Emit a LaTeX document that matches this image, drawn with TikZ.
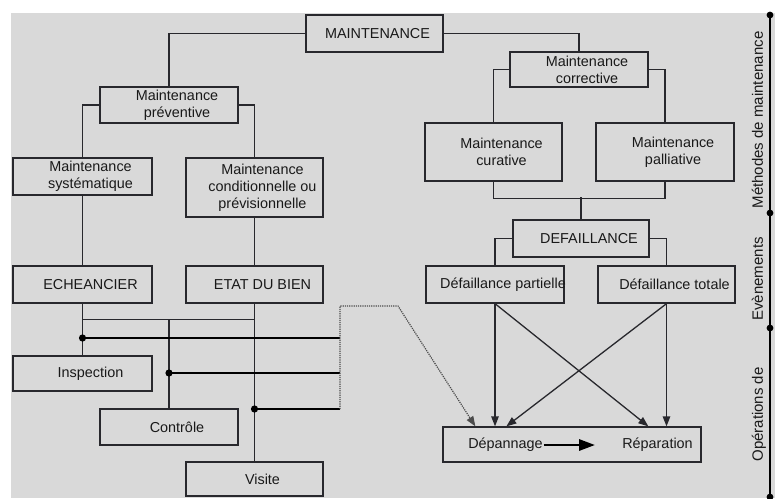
\documentclass[tikz,border=0pt]{standalone}
\usepackage{fontspec}
\setmainfont{Liberation Sans}
\usepackage{xcolor}
\usetikzlibrary{arrows.meta,positioning,calc}
\definecolor{bggray}{RGB}{217,217,217}
\definecolor{ink}{RGB}{40,40,45}

\begin{document}
\begin{tikzpicture}[
  x=1pt,y=-1pt,
  font=\fontsize{14.4}{17}\selectfont,
  frame/.style={draw=ink,line width=1.3pt,minimum width=138pt,minimum height=37pt,inner sep=0pt},
  txt/.style={align=center,text=black!90,inner sep=0pt,xshift=8pt},
  box/.style={frame,label={[txt]center:#1}},
  link/.style={draw=ink,line width=1.3pt},
  arr/.style={link,-{Triangle[length=10pt,width=7.5pt]}},
  thk/.style={draw=black,line width=2.6pt},
  dotarr/.style={draw=black!70,line width=1.2pt,densely dotted,-{Triangle[length=10pt,width=7.5pt]}},
  bigarr/.style={draw=black,line width=2.8pt,-{Triangle[length=16pt,width=11pt]}},
  side/.style={rotate=90,font=\fontsize{15}{18}\selectfont,text=black!90,inner sep=0pt}
]
\useasboundingbox (0,0) rectangle (775,498);
\fill[bggray] (11,13) rectangle (775,498);

% methodes
\node[frame,minimum width=137pt,label={[txt,xshift=-5pt]center:MAINTENANCE}] (maint) at (374.5,33.5) {};
\node[box={Maintenance\\préventive},minimum height=36pt] (prev) at (169,105) {};
\node[box={Maintenance\\systématique},minimum width=139pt] (syst) at (82.5,176.5) {};
\node[box={Maintenance\\conditionnelle ou\\prévisionnelle},minimum width=137pt,minimum height=59pt] (cond) at (254.5,187.5) {};
\node[box={Maintenance\\corrective},minimum height=35pt] (corr) at (579,69.5) {};
\node[box={Maintenance\\curative},minimum width=137pt,minimum height=58pt] (cur) at (493.5,152) {};
\node[box={Maintenance\\palliative},minimum height=58pt] (pal) at (665,152) {};

% evenements
\node[box={DEFAILLANCE},minimum width=136pt] (def) at (581,238.5) {};
\node[box={Défaillance partielle}] (part) at (495,284.5) {};
\node[box={Défaillance totale},minimum width=137pt] (tot) at (666.5,284.5) {};
\node[box={ECHEANCIER},minimum width=139pt] (ech) at (82.5,284.5) {};
\node[box={ETAT DU BIEN},minimum width=137pt] (etat) at (254.5,284.5) {};

% operations
\node[box={Inspection},minimum width=139pt,minimum height=35pt] (insp) at (82.5,373.5) {};
\node[box={Contrôle},minimum height=36pt] (ctrl) at (169,427) {};
\node[box={Visite},minimum width=137pt,minimum height=34pt] (vis) at (254.5,479) {};
\node[frame,minimum width=258pt,minimum height=35pt] (dr) at (572,444.5) {};
\node[inner sep=0pt,text=black!90] (dep) at (505.5,445) {Dépannage};
\node[inner sep=0pt,text=black!90] (rep) at (657.5,445) {Réparation};

% side axis
\node[side] (meth) at (757.5,120) {Méthodes de maintenance};
\node[side] (evt) at (757.5,279) {Evènements};
\node[side] (ops) at (759,414.5) {Opérations de};
\coordinate (a0) at (770,15);
\coordinate (a1) at (770,213);
\coordinate (a2) at (770,328);
\coordinate (a3) at (770,497);
\draw[black,line width=1.2pt] (a0) -- (a3);
\foreach \p in {a0,a1,a2,a3} \fill (\p) circle (3.4pt);

% tree
\draw[link] (maint.west) -| (prev.north);
\draw[link] (maint.east) -| (corr.north);
\draw[link] (prev.west) -| (syst.north);
\draw[link] (prev.east) -| (cond.north);
\draw[link] (syst.south) -- (ech.north);
\draw[link] (cond.south) -- (etat.north);
\draw[link] (corr.west) -| (cur.north);
\draw[link] (corr.east) -| (pal.north);
\draw[link] (cur.south) -- ++(0,17) -| (pal.south);
\draw[link] (def.north) -- ++(0,-22);
\draw[link] (def.west) -| (part.north);
\draw[link] (def.east) -| (tot.north);
\draw[link] (ech.south) -- (insp.north);
\draw[link] (etat.south) -- (vis.north);
\coordinate (hb) at ([yshift=-16pt]ech.south);
\draw[link] (hb) -- (hb -| etat.south);
\draw[link] (ctrl.north) -- (ctrl.north |- hb);

% liaisons vers depannage
\coordinate (j1) at (82.5,338);
\coordinate (j2) at (169,373);
\coordinate (j3) at (254.5,409);
\coordinate (dtop) at (340,306);
\coordinate (dbend) at (398,306);
\foreach \j in {j1,j2,j3} {
  \draw[thk] (\j) -- (\j -| dtop);
  \fill (\j) circle (3.6pt);
}
\draw[dotarr] (j3 -| dtop) -- (dtop) -- (dbend) -- ([xshift=33pt]dr.north west);

\draw[arr] (part.south) -- (part.south |- dr.north);
\draw[arr] (part.south) -- ([xshift=206pt]dr.north west);
\draw[arr] (tot.south) -- (tot.south |- dr.north);
\draw[arr] (tot.south) -- ([xshift=64pt]dr.north west);
\draw[bigarr] ([xshift=1pt]dep.east) -- ([xshift=-27pt]rep.west);
\end{tikzpicture}
\end{document}
